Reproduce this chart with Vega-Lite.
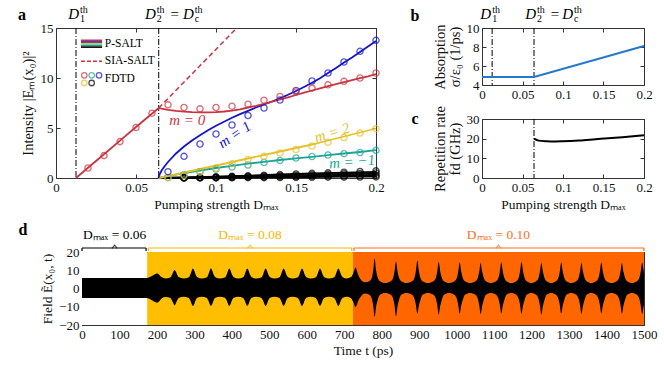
{
"$schema": "https://vega.github.io/schema/vega-lite/v6.json",
"background": "white",
"padding": {"left": 17, "top": 4, "right": 4, "bottom": 4},
"resolve": {"scale": {"color": "independent", "fill": "independent", "stroke": "independent"}},
"config": {
  "font": "Liberation Serif",
  "view": {"stroke": "#333", "strokeWidth": 1},
  "axis": {"domain": false, "grid": false, "tickSize": -4, "tickColor": "#333", "tickWidth": 1, "zindex": 1,
    "labelFont": "Liberation Serif", "labelFontSize": 13, "labelColor": "#111", "labelPadding": 7,
    "labelFlush": false, "labelOverlap": false,
    "titleFont": "Liberation Serif", "titleFontSize": 13.5, "titleFontWeight": "normal", "titleColor": "#111"},
  "text": {"font": "Liberation Serif"}
},
"datasets": {
  "thresh": [{"D": 0.0125}, {"D": 0.0642}],
  "thresh2": [{"D": 0.0642}],
  "sia": [{"D": 0.0642, "I": 7.0}, {"D": 0.113, "I": 15.0}],
  "salt": [
    {"D":0.064,"I":0,"m":"-2"},{"D":0.08,"I":0.05,"m":"-2"},{"D":0.1,"I":0.14,"m":"-2"},{"D":0.12,"I":0.24,"m":"-2"},{"D":0.14,"I":0.35,"m":"-2"},{"D":0.16,"I":0.46,"m":"-2"},{"D":0.18,"I":0.54,"m":"-2"},{"D":0.2,"I":0.62,"m":"-2"},
    {"D":0.064,"I":0,"m":"3"},{"D":0.08,"I":0.04,"m":"3"},{"D":0.1,"I":0.1,"m":"3"},{"D":0.12,"I":0.18,"m":"3"},{"D":0.14,"I":0.26,"m":"3"},{"D":0.16,"I":0.33,"m":"3"},{"D":0.18,"I":0.4,"m":"3"},{"D":0.2,"I":0.46,"m":"3"},
    {"D":0.064,"I":0,"m":"-3"},{"D":0.08,"I":0.02,"m":"-3"},{"D":0.1,"I":0.06,"m":"-3"},{"D":0.12,"I":0.11,"m":"-3"},{"D":0.14,"I":0.16,"m":"-3"},{"D":0.16,"I":0.21,"m":"-3"},{"D":0.18,"I":0.26,"m":"-3"},{"D":0.2,"I":0.3,"m":"-3"},
    {"D":0.064,"I":0,"m":"4"},{"D":0.08,"I":0.01,"m":"4"},{"D":0.1,"I":0.03,"m":"4"},{"D":0.12,"I":0.05,"m":"4"},{"D":0.14,"I":0.08,"m":"4"},{"D":0.16,"I":0.1,"m":"4"},{"D":0.18,"I":0.13,"m":"4"},{"D":0.2,"I":0.15,"m":"4"},
    {"D":0.064,"I":0,"m":"-1"},{"D":0.07,"I":0.2,"m":"-1"},{"D":0.08,"I":0.48,"m":"-1"},{"D":0.09,"I":0.75,"m":"-1"},{"D":0.1,"I":1.0,"m":"-1"},{"D":0.11,"I":1.22,"m":"-1"},{"D":0.12,"I":1.43,"m":"-1"},{"D":0.13,"I":1.62,"m":"-1"},{"D":0.14,"I":1.8,"m":"-1"},{"D":0.15,"I":1.96,"m":"-1"},{"D":0.16,"I":2.12,"m":"-1"},{"D":0.17,"I":2.28,"m":"-1"},{"D":0.18,"I":2.45,"m":"-1"},{"D":0.19,"I":2.6,"m":"-1"},{"D":0.2,"I":2.78,"m":"-1"},
    {"D":0.064,"I":0,"m":"2"},{"D":0.07,"I":0.2,"m":"2"},{"D":0.08,"I":0.55,"m":"2"},{"D":0.09,"I":0.9,"m":"2"},{"D":0.1,"I":1.25,"m":"2"},{"D":0.11,"I":1.6,"m":"2"},{"D":0.12,"I":1.95,"m":"2"},{"D":0.13,"I":2.3,"m":"2"},{"D":0.14,"I":2.65,"m":"2"},{"D":0.15,"I":3.0,"m":"2"},{"D":0.16,"I":3.35,"m":"2"},{"D":0.17,"I":3.75,"m":"2"},{"D":0.18,"I":4.15,"m":"2"},{"D":0.19,"I":4.55,"m":"2"},{"D":0.2,"I":4.95,"m":"2"},
    {"D":0.064,"I":0,"m":"1"},{"D":0.065,"I":0.45,"m":"1"},{"D":0.066,"I":0.75,"m":"1"},{"D":0.068,"I":1.2,"m":"1"},{"D":0.07,"I":1.6,"m":"1"},{"D":0.075,"I":2.45,"m":"1"},{"D":0.08,"I":3.15,"m":"1"},{"D":0.085,"I":3.75,"m":"1"},{"D":0.09,"I":4.28,"m":"1"},{"D":0.095,"I":4.77,"m":"1"},{"D":0.1,"I":5.22,"m":"1"},{"D":0.105,"I":5.63,"m":"1"},{"D":0.11,"I":6.02,"m":"1"},{"D":0.115,"I":6.39,"m":"1"},{"D":0.12,"I":6.72,"m":"1"},{"D":0.125,"I":7.05,"m":"1"},{"D":0.13,"I":7.35,"m":"1"},{"D":0.135,"I":7.65,"m":"1"},{"D":0.14,"I":7.97,"m":"1"},{"D":0.145,"I":8.32,"m":"1"},{"D":0.15,"I":8.7,"m":"1"},{"D":0.155,"I":9.1,"m":"1"},{"D":0.16,"I":9.52,"m":"1"},{"D":0.165,"I":9.98,"m":"1"},{"D":0.17,"I":10.5,"m":"1"},{"D":0.175,"I":11.0,"m":"1"},{"D":0.18,"I":11.55,"m":"1"},{"D":0.185,"I":12.05,"m":"1"},{"D":0.19,"I":12.6,"m":"1"},{"D":0.195,"I":13.15,"m":"1"},{"D":0.2,"I":13.7,"m":"1"},
    {"D":0.0125,"I":0,"m":"0"},{"D":0.02,"I":1.02,"m":"0"},{"D":0.03,"I":2.38,"m":"0"},{"D":0.04,"I":3.74,"m":"0"},{"D":0.05,"I":5.1,"m":"0"},{"D":0.0642,"I":7.0,"m":"0"},{"D":0.066,"I":6.93,"m":"0"},{"D":0.07,"I":6.82,"m":"0"},{"D":0.075,"I":6.72,"m":"0"},{"D":0.08,"I":6.64,"m":"0"},{"D":0.085,"I":6.59,"m":"0"},{"D":0.09,"I":6.56,"m":"0"},{"D":0.095,"I":6.56,"m":"0"},{"D":0.1,"I":6.59,"m":"0"},{"D":0.105,"I":6.65,"m":"0"},{"D":0.11,"I":6.74,"m":"0"},{"D":0.115,"I":6.87,"m":"0"},{"D":0.12,"I":7.05,"m":"0"},{"D":0.125,"I":7.22,"m":"0"},{"D":0.13,"I":7.42,"m":"0"},{"D":0.135,"I":7.63,"m":"0"},{"D":0.14,"I":7.85,"m":"0"},{"D":0.145,"I":8.07,"m":"0"},{"D":0.15,"I":8.3,"m":"0"},{"D":0.155,"I":8.53,"m":"0"},{"D":0.16,"I":8.75,"m":"0"},{"D":0.165,"I":8.97,"m":"0"},{"D":0.17,"I":9.18,"m":"0"},{"D":0.175,"I":9.39,"m":"0"},{"D":0.18,"I":9.59,"m":"0"},{"D":0.185,"I":9.79,"m":"0"},{"D":0.19,"I":9.98,"m":"0"},{"D":0.195,"I":10.17,"m":"0"},{"D":0.2,"I":10.4,"m":"0"}
  ],
  "fdtd": [
    {"D":0.08,"I":0.04,"m":"-2"},{"D":0.09,"I":0.08,"m":"-2"},{"D":0.1,"I":0.12,"m":"-2"},{"D":0.11,"I":0.17,"m":"-2"},{"D":0.12,"I":0.22,"m":"-2"},{"D":0.13,"I":0.28,"m":"-2"},{"D":0.14,"I":0.34,"m":"-2"},{"D":0.15,"I":0.4,"m":"-2"},{"D":0.16,"I":0.46,"m":"-2"},{"D":0.17,"I":0.52,"m":"-2"},{"D":0.18,"I":0.58,"m":"-2"},{"D":0.19,"I":0.65,"m":"-2"},{"D":0.2,"I":0.72,"m":"-2"},
    {"D":0.08,"I":0.03,"m":"3"},{"D":0.09,"I":0.05,"m":"3"},{"D":0.1,"I":0.08,"m":"3"},{"D":0.11,"I":0.11,"m":"3"},{"D":0.12,"I":0.15,"m":"3"},{"D":0.13,"I":0.19,"m":"3"},{"D":0.14,"I":0.23,"m":"3"},{"D":0.15,"I":0.27,"m":"3"},{"D":0.16,"I":0.31,"m":"3"},{"D":0.17,"I":0.36,"m":"3"},{"D":0.18,"I":0.41,"m":"3"},{"D":0.19,"I":0.45,"m":"3"},{"D":0.2,"I":0.5,"m":"3"},
    {"D":0.08,"I":0.01,"m":"-3"},{"D":0.09,"I":0.02,"m":"-3"},{"D":0.1,"I":0.04,"m":"-3"},{"D":0.11,"I":0.06,"m":"-3"},{"D":0.12,"I":0.08,"m":"-3"},{"D":0.13,"I":0.1,"m":"-3"},{"D":0.14,"I":0.13,"m":"-3"},{"D":0.15,"I":0.15,"m":"-3"},{"D":0.16,"I":0.18,"m":"-3"},{"D":0.17,"I":0.2,"m":"-3"},{"D":0.18,"I":0.22,"m":"-3"},{"D":0.19,"I":0.25,"m":"-3"},{"D":0.2,"I":0.27,"m":"-3"},
    {"D":0.08,"I":0.0,"m":"4"},{"D":0.09,"I":0.01,"m":"4"},{"D":0.1,"I":0.01,"m":"4"},{"D":0.11,"I":0.02,"m":"4"},{"D":0.12,"I":0.03,"m":"4"},{"D":0.13,"I":0.04,"m":"4"},{"D":0.14,"I":0.05,"m":"4"},{"D":0.15,"I":0.06,"m":"4"},{"D":0.16,"I":0.07,"m":"4"},{"D":0.17,"I":0.08,"m":"4"},{"D":0.18,"I":0.09,"m":"4"},{"D":0.19,"I":0.1,"m":"4"},{"D":0.2,"I":0.11,"m":"4"},
    {"D":0.07,"I":0.05,"m":"-1"},{"D":0.08,"I":0.3,"m":"-1"},{"D":0.09,"I":0.63,"m":"-1"},{"D":0.1,"I":0.9,"m":"-1"},{"D":0.11,"I":1.1,"m":"-1"},{"D":0.12,"I":1.3,"m":"-1"},{"D":0.13,"I":1.55,"m":"-1"},{"D":0.14,"I":1.75,"m":"-1"},{"D":0.15,"I":2.0,"m":"-1"},{"D":0.16,"I":2.15,"m":"-1"},{"D":0.17,"I":2.3,"m":"-1"},{"D":0.18,"I":2.43,"m":"-1"},{"D":0.19,"I":2.55,"m":"-1"},{"D":0.2,"I":2.77,"m":"-1"},
    {"D":0.07,"I":0.02,"m":"2"},{"D":0.08,"I":0.25,"m":"2"},{"D":0.09,"I":0.6,"m":"2"},{"D":0.1,"I":1.0,"m":"2"},{"D":0.11,"I":1.43,"m":"2"},{"D":0.12,"I":1.85,"m":"2"},{"D":0.13,"I":2.17,"m":"2"},{"D":0.14,"I":2.5,"m":"2"},{"D":0.15,"I":2.85,"m":"2"},{"D":0.16,"I":3.2,"m":"2"},{"D":0.17,"I":3.57,"m":"2"},{"D":0.18,"I":4.05,"m":"2"},{"D":0.19,"I":4.5,"m":"2"},{"D":0.2,"I":4.93,"m":"2"},
    {"D":0.07,"I":0.63,"m":"1"},{"D":0.08,"I":2.17,"m":"1"},{"D":0.09,"I":3.4,"m":"1"},{"D":0.1,"I":4.4,"m":"1"},{"D":0.11,"I":5.3,"m":"1"},{"D":0.12,"I":6.25,"m":"1"},{"D":0.13,"I":7.0,"m":"1"},{"D":0.14,"I":7.8,"m":"1"},{"D":0.15,"I":8.75,"m":"1"},{"D":0.16,"I":9.7,"m":"1"},{"D":0.17,"I":10.5,"m":"1"},{"D":0.18,"I":11.6,"m":"1"},{"D":0.19,"I":12.67,"m":"1"},{"D":0.2,"I":13.77,"m":"1"},
    {"D":0.02,"I":1.0,"m":"0"},{"D":0.03,"I":2.24,"m":"0"},{"D":0.04,"I":3.64,"m":"0"},{"D":0.05,"I":5.05,"m":"0"},{"D":0.06,"I":6.48,"m":"0"},{"D":0.07,"I":7.32,"m":"0"},{"D":0.08,"I":7.05,"m":"0"},{"D":0.09,"I":6.92,"m":"0"},{"D":0.1,"I":7.05,"m":"0"},{"D":0.11,"I":7.18,"m":"0"},{"D":0.12,"I":7.38,"m":"0"},{"D":0.13,"I":7.78,"m":"0"},{"D":0.14,"I":8.15,"m":"0"},{"D":0.15,"I":8.6,"m":"0"},{"D":0.16,"I":8.99,"m":"0"},{"D":0.17,"I":9.32,"m":"0"},{"D":0.18,"I":9.67,"m":"0"},{"D":0.19,"I":10.0,"m":"0"},{"D":0.2,"I":10.5,"m":"0"}
  ],
  "absorption": [{"D":0,"sigma":4.85},{"D":0.0642,"sigma":4.85},{"D":0.2,"sigma":8.1}],
  "rep": [{"D":0.0642,"fd":20.0},{"D":0.07,"fd":19.0},{"D":0.08,"fd":18.7},{"D":0.09,"fd":18.6},{"D":0.1,"fd":18.7},{"D":0.12,"fd":19.1},{"D":0.14,"fd":19.7},{"D":0.16,"fd":20.3},{"D":0.18,"fd":21.0},{"D":0.2,"fd":21.7}],
  "bands": [{"Dmax":"0.06","start":0,"end":174},{"Dmax":"0.08","start":174,"end":723},{"Dmax":"0.10","start":723,"end":1500}],
  "field": [
    {"t":0,"hi":5.8,"lo":-5.2},{"t":172,"hi":5.8,"lo":-5.2},{"t":181,"hi":6.3,"lo":-5.7},{"t":190,"hi":7.3,"lo":-6.8},{"t":196,"hi":8.0,"lo":-7.5},{"t":201,"hi":8.2,"lo":-7.7},{"t":207,"hi":7.3,"lo":-6.8},{"t":213,"hi":6.1,"lo":-5.4},{"t":223,"hi":5.5,"lo":-4.6},
    {"t":235,"hi":6.0,"lo":-5.0},{"t":240,"hi":7.4,"lo":-6.4},{"t":244,"hi":9.3,"lo":-8.2},{"t":247,"hi":10.2,"lo":-9.2},{"t":250,"hi":9.4,"lo":-8.4},{"t":254,"hi":7.6,"lo":-6.5},{"t":259,"hi":6.1,"lo":-5.1},{"t":271,"hi":5.5,"lo":-4.5},
    {"t":284,"hi":6.0,"lo":-5.0},{"t":289,"hi":7.6,"lo":-6.5},{"t":293,"hi":9.9,"lo":-8.6},{"t":296,"hi":11.0,"lo":-9.6},{"t":299,"hi":10.1,"lo":-8.8},{"t":303,"hi":7.8,"lo":-6.6},{"t":308,"hi":6.2,"lo":-5.1},{"t":320,"hi":5.5,"lo":-4.5},
    {"t":332,"hi":6.0,"lo":-5.0},{"t":337,"hi":7.6,"lo":-6.5},{"t":341,"hi":9.9,"lo":-8.6},{"t":344,"hi":11.1,"lo":-9.5},{"t":347,"hi":10.1,"lo":-8.8},{"t":351,"hi":7.8,"lo":-6.6},{"t":356,"hi":6.2,"lo":-5.1},{"t":368,"hi":5.5,"lo":-4.5},
    {"t":381,"hi":6.0,"lo":-5.0},{"t":386,"hi":7.6,"lo":-6.5},{"t":390,"hi":9.9,"lo":-8.6},{"t":393,"hi":11.0,"lo":-9.6},{"t":396,"hi":10.1,"lo":-8.8},{"t":400,"hi":7.8,"lo":-6.6},{"t":405,"hi":6.2,"lo":-5.1},{"t":417,"hi":5.5,"lo":-4.5},
    {"t":429,"hi":6.0,"lo":-5.0},{"t":434,"hi":7.6,"lo":-6.5},{"t":438,"hi":9.9,"lo":-8.6},{"t":441,"hi":11.0,"lo":-9.5},{"t":444,"hi":10.1,"lo":-8.8},{"t":448,"hi":7.8,"lo":-6.6},{"t":453,"hi":6.2,"lo":-5.1},{"t":465,"hi":5.5,"lo":-4.5},
    {"t":478,"hi":6.0,"lo":-5.0},{"t":483,"hi":7.6,"lo":-6.5},{"t":487,"hi":9.9,"lo":-8.6},{"t":490,"hi":11.0,"lo":-9.6},{"t":493,"hi":10.1,"lo":-8.8},{"t":497,"hi":7.8,"lo":-6.6},{"t":502,"hi":6.2,"lo":-5.1},{"t":514,"hi":5.5,"lo":-4.5},
    {"t":526,"hi":6.0,"lo":-5.0},{"t":531,"hi":7.6,"lo":-6.5},{"t":535,"hi":9.9,"lo":-8.6},{"t":538,"hi":11.0,"lo":-9.5},{"t":541,"hi":10.1,"lo":-8.8},{"t":545,"hi":7.8,"lo":-6.6},{"t":550,"hi":6.2,"lo":-5.1},{"t":562,"hi":5.5,"lo":-4.5},
    {"t":575,"hi":6.0,"lo":-5.0},{"t":580,"hi":7.6,"lo":-6.5},{"t":584,"hi":9.9,"lo":-8.6},{"t":587,"hi":11.0,"lo":-9.6},{"t":590,"hi":10.1,"lo":-8.8},{"t":594,"hi":7.8,"lo":-6.6},{"t":599,"hi":6.2,"lo":-5.1},{"t":611,"hi":5.5,"lo":-4.5},
    {"t":623,"hi":6.0,"lo":-5.0},{"t":628,"hi":7.6,"lo":-6.5},{"t":632,"hi":9.9,"lo":-8.6},{"t":635,"hi":11.0,"lo":-9.5},{"t":638,"hi":10.1,"lo":-8.8},{"t":642,"hi":7.8,"lo":-6.6},{"t":647,"hi":6.2,"lo":-5.1},{"t":659,"hi":5.5,"lo":-4.5},
    {"t":672,"hi":6.0,"lo":-5.0},{"t":677,"hi":7.6,"lo":-6.5},{"t":681,"hi":9.9,"lo":-8.6},{"t":684,"hi":11.0,"lo":-9.6},{"t":687,"hi":10.1,"lo":-8.8},{"t":691,"hi":7.8,"lo":-6.6},{"t":696,"hi":6.2,"lo":-5.1},{"t":707,"hi":5.5,"lo":-4.5},
    {"t":718,"hi":6.3,"lo":-5.3},{"t":723,"hi":8.0,"lo":-7.0},{"t":727,"hi":10.2,"lo":-9.0},{"t":730,"hi":11.5,"lo":-10.2},{"t":733,"hi":10.2,"lo":-9.2},{"t":737,"hi":7.5,"lo":-6.8},{"t":743,"hi":5.2,"lo":-4.8},{"t":755,"hi":3.4,"lo":-2.8},
    {"t":767,"hi":4.0,"lo":-3.4},{"t":773,"hi":5.6,"lo":-5.4},{"t":777,"hi":9.5,"lo":-9.0},{"t":781,"hi":16.5,"lo":-15.5},{"t":785,"hi":9.8,"lo":-9.8},{"t":789,"hi":6.0,"lo":-6.4},{"t":795,"hi":4.0,"lo":-3.4},{"t":809,"hi":3.0,"lo":-2.4},
    {"t":824,"hi":4.0,"lo":-3.4},{"t":830,"hi":5.6,"lo":-5.4},{"t":834,"hi":9.3,"lo":-9.0},{"t":838,"hi":14.8,"lo":-15.2},{"t":842,"hi":9.6,"lo":-9.8},{"t":846,"hi":6.0,"lo":-6.4},{"t":852,"hi":4.0,"lo":-3.4},{"t":866,"hi":3.0,"lo":-2.4},
    {"t":881,"hi":4.0,"lo":-3.4},{"t":887,"hi":5.6,"lo":-5.4},{"t":891,"hi":9.4,"lo":-8.8},{"t":895,"hi":15.3,"lo":-13.8},{"t":899,"hi":9.7,"lo":-9.5},{"t":903,"hi":6.0,"lo":-6.4},{"t":909,"hi":4.0,"lo":-3.4},{"t":923,"hi":3.0,"lo":-2.4},
    {"t":938,"hi":4.0,"lo":-3.4},{"t":944,"hi":5.6,"lo":-5.4},{"t":948,"hi":9.2,"lo":-8.9},{"t":952,"hi":14.5,"lo":-14.2},{"t":956,"hi":9.5,"lo":-9.6},{"t":960,"hi":6.0,"lo":-6.4},{"t":966,"hi":4.0,"lo":-3.4},{"t":980,"hi":3.0,"lo":-2.4},
    {"t":994,"hi":4.0,"lo":-3.4},{"t":1000,"hi":5.6,"lo":-5.4},{"t":1004,"hi":9.1,"lo":-8.8},{"t":1008,"hi":14.2,"lo":-13.8},{"t":1012,"hi":9.4,"lo":-9.5},{"t":1016,"hi":6.0,"lo":-6.4},{"t":1022,"hi":4.0,"lo":-3.4},{"t":1036,"hi":3.0,"lo":-2.4},
    {"t":1050,"hi":4.0,"lo":-3.4},{"t":1056,"hi":5.6,"lo":-5.4},{"t":1060,"hi":9.0,"lo":-8.9},{"t":1064,"hi":14.0,"lo":-14.0},{"t":1068,"hi":9.3,"lo":-9.6},{"t":1072,"hi":6.0,"lo":-6.4},{"t":1078,"hi":4.0,"lo":-3.4},{"t":1091,"hi":3.0,"lo":-2.4},
    {"t":1105,"hi":4.0,"lo":-3.4},{"t":1111,"hi":5.6,"lo":-5.4},{"t":1115,"hi":9.1,"lo":-8.7},{"t":1119,"hi":14.2,"lo":-13.6},{"t":1123,"hi":9.4,"lo":-9.4},{"t":1127,"hi":6.0,"lo":-6.4},{"t":1133,"hi":4.0,"lo":-3.4},{"t":1146,"hi":3.0,"lo":-2.4},
    {"t":1159,"hi":4.0,"lo":-3.4},{"t":1165,"hi":5.6,"lo":-5.4},{"t":1169,"hi":9.2,"lo":-8.8},{"t":1173,"hi":14.5,"lo":-13.8},{"t":1177,"hi":9.5,"lo":-9.5},{"t":1181,"hi":6.0,"lo":-6.4},{"t":1187,"hi":4.0,"lo":-3.4},{"t":1199,"hi":3.0,"lo":-2.4},
    {"t":1212,"hi":4.0,"lo":-3.4},{"t":1218,"hi":5.6,"lo":-5.4},{"t":1222,"hi":9.0,"lo":-9.0},{"t":1226,"hi":14.0,"lo":-14.2},{"t":1230,"hi":9.3,"lo":-9.7},{"t":1234,"hi":6.0,"lo":-6.4},{"t":1240,"hi":4.0,"lo":-3.4},{"t":1252,"hi":3.0,"lo":-2.4},
    {"t":1265,"hi":4.0,"lo":-3.4},{"t":1271,"hi":5.6,"lo":-5.4},{"t":1275,"hi":9.1,"lo":-8.7},{"t":1279,"hi":14.3,"lo":-13.6},{"t":1283,"hi":9.4,"lo":-9.4},{"t":1287,"hi":6.0,"lo":-6.4},{"t":1293,"hi":4.0,"lo":-3.4},{"t":1306,"hi":3.0,"lo":-2.4},
    {"t":1319,"hi":4.0,"lo":-3.4},{"t":1325,"hi":5.6,"lo":-5.4},{"t":1329,"hi":9.0,"lo":-8.9},{"t":1333,"hi":14.0,"lo":-14.0},{"t":1337,"hi":9.3,"lo":-9.6},{"t":1341,"hi":6.0,"lo":-6.4},{"t":1347,"hi":4.0,"lo":-3.4},{"t":1359,"hi":3.0,"lo":-2.4},
    {"t":1372,"hi":4.0,"lo":-3.4},{"t":1378,"hi":5.6,"lo":-5.4},{"t":1382,"hi":9.1,"lo":-8.7},{"t":1386,"hi":14.2,"lo":-13.6},{"t":1390,"hi":9.4,"lo":-9.4},{"t":1394,"hi":6.0,"lo":-6.4},{"t":1400,"hi":4.0,"lo":-3.4},{"t":1413,"hi":3.0,"lo":-2.4},
    {"t":1427,"hi":4.0,"lo":-3.4},{"t":1433,"hi":5.6,"lo":-5.4},{"t":1437,"hi":9.0,"lo":-8.8},{"t":1441,"hi":14.0,"lo":-13.8},{"t":1445,"hi":9.3,"lo":-9.5},{"t":1449,"hi":6.0,"lo":-6.4},{"t":1455,"hi":4.0,"lo":-3.4},{"t":1468,"hi":3.0,"lo":-2.4},
    {"t":1481,"hi":4.0,"lo":-3.4},{"t":1487,"hi":5.6,"lo":-5.4},{"t":1491,"hi":9.1,"lo":-8.9},{"t":1495,"hi":14.2,"lo":-14.0},{"t":1499,"hi":9.8,"lo":-9.8},{"t":1500,"hi":8.6,"lo":-8.8}
  ]
},
"spacing": 10,
"vconcat": [
  {
    "bounds": "flush",
    "spacing": 106,
    "hconcat": [
      {
        "width": 320, "height": 150,
        "data": {"values": [{}]},
        "layer": [
          {"data": {"name": "thresh"}, "mark": {"type": "rule", "color": "black", "strokeWidth": 1, "strokeDash": [6, 2, 1, 2]},
           "encoding": {"x": {"field": "D", "type": "quantitative", "scale": {"domain": [0, 0.2], "nice": false}}}},
          {"data": {"name": "sia"}, "mark": {"type": "line", "color": "#cc3340", "strokeWidth": 1.5, "strokeDash": [5, 3], "clip": true},
           "encoding": {"x": {"field": "D", "type": "quantitative", "scale": {"domain": [0, 0.2], "nice": false}},
                        "y": {"field": "I", "type": "quantitative", "scale": {"domain": [0, 15], "nice": false}}}},
          {"data": {"name": "salt"}, "mark": {"type": "line", "strokeWidth": 1.8},
           "encoding": {"x": {"field": "D", "type": "quantitative", "scale": {"domain": [0, 0.2], "nice": false},
                              "axis": {"title": "Pumping strength Dₘₐₓ", "values": [0, 0.05, 0.1, 0.15, 0.2], "tickCount": 5, "format": "~g", "titlePadding": 3, "tickSize": -150, "tickDash": [4, 142], "labelPadding": 153}},
                        "y": {"field": "I", "type": "quantitative", "scale": {"domain": [0, 15], "nice": false},
                              "axis": {"title": "Intensity |Eₘ(x₀)|²", "values": [0, 5, 10, 15], "tickCount": 4, "titlePadding": 5, "titleFontSize": 14.5, "tickSize": -320, "tickDash": [4, 312], "labelPadding": 323}},
                        "color": {"field": "m", "type": "nominal", "legend": null,
                                  "scale": {"domain": ["0", "1", "2", "-1", "-2", "3", "-3", "4"],
                                            "range": ["#cc3340", "#1414c8", "#e6c12a", "#1ba596", "#000000", "#000000", "#000000", "#000000"]}}}},
          {"data": {"name": "fdtd"}, "mark": {"type": "point", "filled": false, "size": 38, "strokeWidth": 1.4},
           "encoding": {"x": {"field": "D", "type": "quantitative"}, "y": {"field": "I", "type": "quantitative"},
                        "color": {"field": "m", "type": "nominal", "legend": null}}},
          {"mark": {"type": "rule", "color": "#cc3340", "strokeWidth": 1.6}, "encoding": {"x": {"datum": 0.0156}, "x2": {"datum": 0.0288}, "y": {"datum": 13.77}}},
          {"mark": {"type": "rule", "color": "#1414c8", "strokeWidth": 1.6}, "encoding": {"x": {"datum": 0.0156}, "x2": {"datum": 0.0288}, "y": {"datum": 13.6}}},
          {"mark": {"type": "rule", "color": "#e6c12a", "strokeWidth": 1.6}, "encoding": {"x": {"datum": 0.0156}, "x2": {"datum": 0.0288}, "y": {"datum": 13.43}}},
          {"mark": {"type": "rule", "color": "#1ba596", "strokeWidth": 1.6}, "encoding": {"x": {"datum": 0.0156}, "x2": {"datum": 0.0288}, "y": {"datum": 13.26}}},
          {"mark": {"type": "rule", "color": "#000000", "strokeWidth": 1.6}, "encoding": {"x": {"datum": 0.0156}, "x2": {"datum": 0.0288}, "y": {"datum": 13.09}}},
          {"mark": {"type": "rule", "color": "#cc3340", "strokeWidth": 1.5, "strokeDash": [4, 2]}, "encoding": {"x": {"datum": 0.0156}, "x2": {"datum": 0.0288}, "y": {"datum": 11.67}}},
          {"mark": {"type": "point", "filled": false, "size": 30, "strokeWidth": 1.3, "color": "#cc3340"}, "encoding": {"x": {"datum": 0.0177}, "y": {"datum": 10.27}}},
          {"mark": {"type": "point", "filled": false, "size": 30, "strokeWidth": 1.3, "color": "#1ba596"}, "encoding": {"x": {"datum": 0.0223}, "y": {"datum": 10.27}}},
          {"mark": {"type": "point", "filled": false, "size": 30, "strokeWidth": 1.3, "color": "#1414c8"}, "encoding": {"x": {"datum": 0.0269}, "y": {"datum": 10.27}}},
          {"mark": {"type": "point", "filled": false, "size": 30, "strokeWidth": 1.3, "color": "#e6c12a"}, "encoding": {"x": {"datum": 0.0177}, "y": {"datum": 9.5}}},
          {"mark": {"type": "point", "filled": false, "size": 30, "strokeWidth": 1.3, "color": "#000000"}, "encoding": {"x": {"datum": 0.0223}, "y": {"datum": 9.5}}},
          {"mark": {"type": "text", "text": "P-SALT", "fontSize": 11.5, "align": "left", "baseline": "middle"}, "encoding": {"x": {"datum": 0.0305}, "y": {"datum": 13.43}}},
          {"mark": {"type": "text", "text": "SIA-SALT", "fontSize": 11.5, "align": "left", "baseline": "middle"}, "encoding": {"x": {"datum": 0.0305}, "y": {"datum": 11.67}}},
          {"mark": {"type": "text", "text": "FDTD", "fontSize": 11.5, "align": "left", "baseline": "middle"}, "encoding": {"x": {"datum": 0.0305}, "y": {"datum": 9.9}}},
          {"mark": {"type": "text", "text": "m = 0", "fontSize": 15, "fontStyle": "italic", "color": "#cc3340", "align": "center", "baseline": "middle"}, "encoding": {"x": {"datum": 0.082}, "y": {"datum": 5.85}}},
          {"mark": {"type": "text", "text": "m = 1", "fontSize": 15, "fontStyle": "italic", "color": "#1414c8", "align": "center", "baseline": "middle", "angle": 326}, "encoding": {"x": {"datum": 0.1115}, "y": {"datum": 4.35}}},
          {"mark": {"type": "text", "text": "m = 2", "fontSize": 15, "fontStyle": "italic", "color": "#e6c12a", "align": "center", "baseline": "middle", "angle": 343}, "encoding": {"x": {"datum": 0.1725}, "y": {"datum": 4.55}}},
          {"mark": {"type": "text", "text": "m = −1", "fontSize": 15, "fontStyle": "italic", "color": "#1ba596", "align": "center", "baseline": "middle", "angle": 355}, "encoding": {"x": {"datum": 0.185}, "y": {"datum": 1.65}}},
          {"mark": {"type": "text", "text": "a", "fontSize": 16, "fontWeight": "bold", "align": "center", "baseline": "middle", "dx": -34, "dy": -13}, "encoding": {"x": {"datum": 0}, "y": {"datum": 15}}},
          {"mark": {"type": "text", "text": "D", "fontSize": 15, "fontStyle": "italic", "align": "right", "baseline": "alphabetic", "dx": 3, "dy": -9}, "encoding": {"x": {"datum": 0.0125}, "y": {"datum": 15}}},
          {"mark": {"type": "text", "text": "th", "fontSize": 10, "align": "left", "baseline": "alphabetic", "dx": 4, "dy": -15}, "encoding": {"x": {"datum": 0.0125}, "y": {"datum": 15}}},
          {"mark": {"type": "text", "text": "1", "fontSize": 10, "align": "left", "baseline": "alphabetic", "dx": 4, "dy": -6}, "encoding": {"x": {"datum": 0.0125}, "y": {"datum": 15}}},
          {"mark": {"type": "text", "text": "D", "fontSize": 15, "fontStyle": "italic", "align": "right", "baseline": "alphabetic", "dx": -3, "dy": -9}, "encoding": {"x": {"datum": 0.0642}, "y": {"datum": 15}}},
          {"mark": {"type": "text", "text": "th", "fontSize": 10, "align": "left", "baseline": "alphabetic", "dx": -2, "dy": -15}, "encoding": {"x": {"datum": 0.0642}, "y": {"datum": 15}}},
          {"mark": {"type": "text", "text": "2", "fontSize": 10, "align": "left", "baseline": "alphabetic", "dx": -2, "dy": -6}, "encoding": {"x": {"datum": 0.0642}, "y": {"datum": 15}}},
          {"mark": {"type": "text", "text": "=", "fontSize": 15, "align": "center", "baseline": "alphabetic", "dx": 16, "dy": -9}, "encoding": {"x": {"datum": 0.0642}, "y": {"datum": 15}}},
          {"mark": {"type": "text", "text": "D", "fontSize": 15, "fontStyle": "italic", "align": "right", "baseline": "alphabetic", "dx": 35, "dy": -9}, "encoding": {"x": {"datum": 0.0642}, "y": {"datum": 15}}},
          {"mark": {"type": "text", "text": "th", "fontSize": 10, "align": "left", "baseline": "alphabetic", "dx": 36, "dy": -15}, "encoding": {"x": {"datum": 0.0642}, "y": {"datum": 15}}},
          {"mark": {"type": "text", "text": "c", "fontSize": 10, "align": "left", "baseline": "alphabetic", "dx": 36, "dy": -6}, "encoding": {"x": {"datum": 0.0642}, "y": {"datum": 15}}}
        ]
      },
      {
        "bounds": "flush",
        "spacing": 34,
        "vconcat": [
          {
            "width": 162, "height": 57,
            "data": {"values": [{}]},
            "layer": [
              {"data": {"name": "thresh"}, "mark": {"type": "rule", "color": "black", "strokeWidth": 1, "strokeDash": [6, 2, 1, 2]},
               "encoding": {"x": {"field": "D", "type": "quantitative", "scale": {"domain": [0, 0.2], "nice": false}}}},
              {"data": {"name": "absorption"}, "mark": {"type": "line", "color": "#2479cc", "strokeWidth": 2},
               "encoding": {"x": {"field": "D", "type": "quantitative", "scale": {"domain": [0, 0.2], "nice": false},
                                  "axis": {"title": null, "values": [0, 0.05, 0.1, 0.15, 0.2], "tickCount": 5, "format": "~g", "tickSize": -57, "tickDash": [4, 49], "labelPadding": 60}},
                            "y": {"field": "sigma", "type": "quantitative", "scale": {"domain": [4, 10], "nice": false},
                                  "axis": {"title": ["Absorption", "σ/ε₀ (1/ps)"], "values": [4, 6, 8, 10], "tickCount": 4, "titlePadding": 4, "titleFontSize": 14.5, "titleLineHeight": 15, "tickSize": -162, "tickDash": [4, 154], "labelPadding": 165}}}},
              {"mark": {"type": "text", "text": "b", "fontSize": 16, "fontWeight": "bold", "align": "center", "baseline": "middle", "dx": -67, "dy": -12}, "encoding": {"x": {"datum": 0}, "y": {"datum": 10}}},
              {"mark": {"type": "text", "text": "D", "fontSize": 15, "fontStyle": "italic", "align": "right", "baseline": "alphabetic", "dx": -1, "dy": -9}, "encoding": {"x": {"datum": 0.0125}, "y": {"datum": 10}}},
              {"mark": {"type": "text", "text": "th", "fontSize": 10, "align": "left", "baseline": "alphabetic", "dx": 0, "dy": -15}, "encoding": {"x": {"datum": 0.0125}, "y": {"datum": 10}}},
              {"mark": {"type": "text", "text": "1", "fontSize": 10, "align": "left", "baseline": "alphabetic", "dx": 0, "dy": -6}, "encoding": {"x": {"datum": 0.0125}, "y": {"datum": 10}}},
              {"mark": {"type": "text", "text": "D", "fontSize": 15, "fontStyle": "italic", "align": "right", "baseline": "alphabetic", "dx": 2, "dy": -9}, "encoding": {"x": {"datum": 0.0642}, "y": {"datum": 10}}},
              {"mark": {"type": "text", "text": "th", "fontSize": 10, "align": "left", "baseline": "alphabetic", "dx": 3, "dy": -15}, "encoding": {"x": {"datum": 0.0642}, "y": {"datum": 10}}},
              {"mark": {"type": "text", "text": "2", "fontSize": 10, "align": "left", "baseline": "alphabetic", "dx": 3, "dy": -6}, "encoding": {"x": {"datum": 0.0642}, "y": {"datum": 10}}},
              {"mark": {"type": "text", "text": "=", "fontSize": 15, "align": "center", "baseline": "alphabetic", "dx": 21, "dy": -9}, "encoding": {"x": {"datum": 0.0642}, "y": {"datum": 10}}},
              {"mark": {"type": "text", "text": "D", "fontSize": 15, "fontStyle": "italic", "align": "right", "baseline": "alphabetic", "dx": 39, "dy": -9}, "encoding": {"x": {"datum": 0.0642}, "y": {"datum": 10}}},
              {"mark": {"type": "text", "text": "th", "fontSize": 10, "align": "left", "baseline": "alphabetic", "dx": 40, "dy": -15}, "encoding": {"x": {"datum": 0.0642}, "y": {"datum": 10}}},
              {"mark": {"type": "text", "text": "c", "fontSize": 10, "align": "left", "baseline": "alphabetic", "dx": 40, "dy": -6}, "encoding": {"x": {"datum": 0.0642}, "y": {"datum": 10}}}
            ]
          },
          {
            "width": 162, "height": 59,
            "data": {"values": [{}]},
            "layer": [
              {"data": {"name": "thresh2"}, "mark": {"type": "rule", "color": "black", "strokeWidth": 1, "strokeDash": [6, 2, 1, 2]},
               "encoding": {"x": {"field": "D", "type": "quantitative", "scale": {"domain": [0, 0.2], "nice": false}}}},
              {"data": {"name": "rep"}, "mark": {"type": "line", "color": "black", "strokeWidth": 2, "interpolate": "monotone"},
               "encoding": {"x": {"field": "D", "type": "quantitative", "scale": {"domain": [0, 0.2], "nice": false},
                                  "axis": {"title": "Pumping strength Dₘₐₓ", "values": [0, 0.05, 0.1, 0.15, 0.2], "tickCount": 5, "format": "~g", "titlePadding": 3, "tickSize": -59, "tickDash": [4, 51], "labelPadding": 62}},
                            "y": {"field": "fd", "type": "quantitative", "scale": {"domain": [0, 30], "nice": false},
                                  "axis": {"title": ["Repetition rate", "fd (GHz)"], "values": [0, 10, 20, 30], "tickCount": 4, "titlePadding": 4, "titleFontSize": 14.5, "titleLineHeight": 15, "tickSize": -162, "tickDash": [4, 154], "labelPadding": 165}}}},
              {"mark": {"type": "text", "text": "c", "fontSize": 16, "fontWeight": "bold", "align": "center", "baseline": "middle", "dx": -67, "dy": 0}, "encoding": {"x": {"datum": 0}, "y": {"datum": 30}}}
            ]
          }
        ]
      }
    ]
  },
  {
    "bounds": "flush",
    "spacing": 25,
    "hconcat": [
      {"width": 1, "height": 73, "data": {"values": [{}]}, "mark": {"type": "point", "opacity": 0}, "encoding": {}, "view": {"stroke": null}},
      {
        "width": 562, "height": 73,
        "data": {"values": [{}]},
        "layer": [
          {"data": {"name": "bands"}, "mark": {"type": "rect"},
           "encoding": {"x": {"field": "start", "type": "quantitative", "scale": {"domain": [0, 1500], "nice": false},
                              "axis": {"title": "Time t (ps)", "format": "d", "values": [0, 100, 200, 300, 400, 500, 600, 700, 800, 900, 1000, 1100, 1200, 1300, 1400, 1500], "tickCount": 16, "titlePadding": 2, "tickSize": -73, "tickDash": [4, 65], "labelPadding": 76}},
                        "x2": {"field": "end"},
                        "fill": {"field": "Dmax", "type": "nominal", "legend": null, "scale": {"domain": ["0.06", "0.08", "0.10"], "range": ["#ffffff", "#ffbf00", "#ff6600"]}}}},
          {"data": {"name": "field"}, "mark": {"type": "area", "color": "black", "interpolate": "monotone"},
           "encoding": {"x": {"field": "t", "type": "quantitative", "scale": {"domain": [0, 1500], "nice": false}},
                        "y": {"field": "hi", "type": "quantitative", "scale": {"domain": [-20, 20], "nice": false},
                              "axis": {"title": "Field Ẽ(x₀, t)", "values": [-20, -10, 0, 10, 20], "tickCount": 5, "titlePadding": 4, "tickSize": -562, "tickDash": [4, 554], "labelPadding": 565}},
                        "y2": {"field": "lo"}}},
          {"data": {"name": "bands"},
           "transform": [{"calculate": "datum.start > 0 ? datum.start + 3 : datum.start", "as": "b0"},
                         {"calculate": "datum.end < 1500 ? datum.end - 3 : datum.end", "as": "b1"},
                         {"calculate": "(datum.start + datum.end) / 2", "as": "mid"},
                         {"calculate": "'Dₘₐₓ = ' + datum.Dmax", "as": "label"}],
           "layer": [
             {"mark": {"type": "rule", "strokeWidth": 1.2}, "encoding": {"x": {"field": "b0", "type": "quantitative"}, "x2": {"field": "b1"}, "y": {"datum": 22.2},
               "stroke": {"field": "Dmax", "type": "nominal", "legend": null, "scale": {"domain": ["0.06", "0.08", "0.10"], "range": ["#000000", "#f5b800", "#ff6e1e"]}}}},
             {"mark": {"type": "rule", "strokeWidth": 1.2}, "encoding": {"x": {"field": "b0", "type": "quantitative"}, "y": {"datum": 22.2}, "y2": {"datum": 20.6},
               "stroke": {"field": "Dmax", "type": "nominal", "legend": null}}},
             {"mark": {"type": "rule", "strokeWidth": 1.2}, "encoding": {"x": {"field": "b1", "type": "quantitative"}, "y": {"datum": 22.2}, "y2": {"datum": 20.6},
               "stroke": {"field": "Dmax", "type": "nominal", "legend": null}}},
             {"mark": {"type": "point", "shape": "M-1,0.7L0,-0.5L1,0.7", "filled": false, "size": 28, "strokeWidth": 1.2}, "encoding": {"x": {"field": "mid", "type": "quantitative"}, "y": {"datum": 23.0},
               "stroke": {"field": "Dmax", "type": "nominal", "legend": null}}},
             {"mark": {"type": "text", "fontSize": 13.5, "align": "center", "baseline": "alphabetic"}, "encoding": {"x": {"field": "mid", "type": "quantitative"}, "y": {"datum": 27.0},
               "text": {"field": "label"},
               "color": {"field": "Dmax", "type": "nominal", "legend": null, "scale": {"domain": ["0.06", "0.08", "0.10"], "range": ["#000000", "#f5b800", "#ff6e1e"]}}}}
           ]},
          {"mark": {"type": "text", "text": "d", "fontSize": 16, "fontWeight": "bold", "align": "center", "baseline": "middle", "dx": -59, "dy": -22}, "encoding": {"x": {"datum": 0}, "y": {"datum": 20}}}
        ]
      }
    ]
  }
]
}
